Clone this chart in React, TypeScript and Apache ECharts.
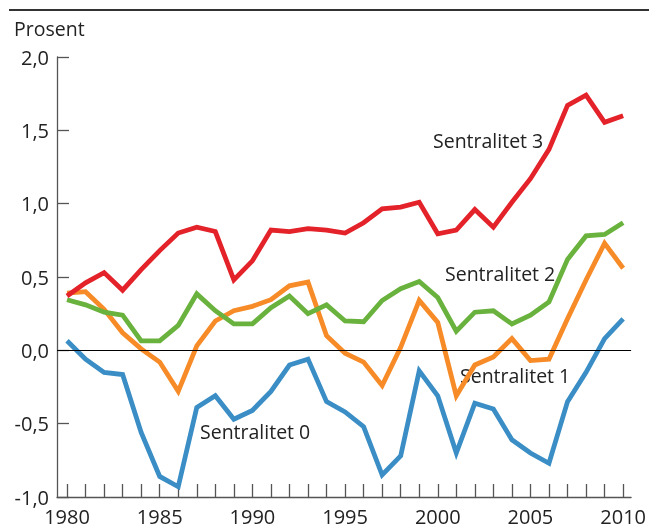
import React, { useEffect, useRef } from "react";
import * as echarts from "echarts";

const years = [1980,1981,1982,1983,1984,1985,1986,1987,1988,1989,1990,1991,1992,1993,1994,1995,1996,1997,1998,1999,2000,2001,2002,2003,2004,2005,2006,2007,2008,2009,2010];

const sentralitet3 = [0.37,0.46,0.53,0.41,0.55,0.68,0.80,0.84,0.81,0.48,0.61,0.82,0.81,0.83,0.82,0.80,0.87,0.965,0.976,1.01,0.795,0.82,0.96,0.84,1.01,1.17,1.37,1.67,1.74,1.555,1.60];
const sentralitet2 = [0.345,0.31,0.26,0.24,0.065,0.065,0.17,0.385,0.27,0.18,0.18,0.29,0.37,0.25,0.31,0.20,0.195,0.34,0.42,0.47,0.36,0.13,0.26,0.27,0.18,0.24,0.33,0.62,0.78,0.79,0.87];
const sentralitet1 = [0.39,0.40,0.28,0.12,0.01,-0.08,-0.28,0.03,0.20,0.27,0.30,0.345,0.44,0.465,0.10,-0.02,-0.08,-0.24,0.02,0.34,0.19,-0.31,-0.10,-0.045,0.08,-0.07,-0.06,0.215,0.48,0.73,0.56];
const sentralitet0 = [0.065,-0.06,-0.15,-0.165,-0.56,-0.86,-0.93,-0.39,-0.31,-0.47,-0.41,-0.28,-0.10,-0.06,-0.35,-0.42,-0.52,-0.85,-0.72,-0.14,-0.31,-0.70,-0.36,-0.40,-0.61,-0.70,-0.77,-0.35,-0.15,0.08,0.215];

const xLabelYears = [1980,1985,1990,1995,2000,2005,2010];
const yTicks = [-1,-0.5,0,0.5,1,1.5,2];

const seriesNames = ["Sentralitet 3","Sentralitet 2","Sentralitet 1","Sentralitet 0"];
const seriesColors = ["#e42229","#6ab23e","#f68b28","#3a8ec5"];

const FONT = "'Open Sans', 'Noto Sans', sans-serif";

export default function App() {
  const ref = useRef<HTMLDivElement>(null);
  useEffect(() => {
    if (!ref.current) return;
    const chart = echarts.init(ref.current, undefined, { renderer: "svg" });
    const all = [sentralitet3, sentralitet2, sentralitet1, sentralitet0];
    const series: any[] = all.map((vals, i) => ({
      name: seriesNames[i],
      type: "line",
      data: years.map((y, j) => [y, vals[j]]),
      showSymbol: false,
      symbol: "none",
      lineStyle: { color: seriesColors[i], width: 4.8, join: "miter" },
      itemStyle: { color: seriesColors[i] },
      z: 3 + (3 - i),
    }));
    series.push({
      type: "line",
      data: [],
      markLine: {
        silent: true,
        symbol: "none",
        label: { show: false },
        lineStyle: { color: "#000", width: 1, type: "solid" },
        data: [{ yAxis: 0 }],
      },
      z: 1,
    });
    chart.setOption({
      animation: false,
      textStyle: { fontFamily: FONT },
      grid: { left: 57, right: 15, top: 57, bottom: 31, containLabel: false },
      xAxis: {
        type: "value",
        min: 1979.46,
        max: 2010.43,
        axisLine: { show: true, onZero: false, lineStyle: { color: "#555", width: 1.3 } },
        axisTick: { show: true, inside: true, length: 13, customValues: years, lineStyle: { color: "#555", width: 1.3 } },
        axisLabel: { customValues: xLabelYears, margin: 9, fontSize: 20, color: "#222", fontFamily: FONT, formatter: (v: number) => String(Math.round(v)) },
        splitLine: { show: false },
      },
      yAxis: {
        type: "value",
        min: -1,
        max: 2,
        axisLine: { show: true, onZero: false, lineStyle: { color: "#555", width: 1.3 } },
        axisTick: { show: true, inside: true, length: 12, customValues: yTicks, lineStyle: { color: "#555", width: 1.3 } },
        axisLabel: { customValues: yTicks, margin: 8, fontSize: 20, color: "#222", fontFamily: FONT, formatter: (v: number) => v.toFixed(1).replace(".", ",") },
        splitLine: { show: false },
      },
      graphic: [
        { type: "line", shape: { x1: 9, y1: 10, x2: 649, y2: 10 }, style: { stroke: "#333", lineWidth: 2 } },
        { type: "text", left: 14, top: 18, style: { text: "Prosent", font: `19.5px ${FONT}`, fill: "#222" } },
        { type: "text", left: 433, top: 130, style: { text: "Sentralitet 3", font: `19.5px ${FONT}`, fill: "#222" } },
        { type: "text", left: 445, top: 263, style: { text: "Sentralitet 2", font: `19.5px ${FONT}`, fill: "#222" } },
        { type: "text", left: 460, top: 365, style: { text: "Sentralitet 1", font: `19.5px ${FONT}`, fill: "#222" } },
        { type: "text", left: 200, top: 421, style: { text: "Sentralitet 0", font: `19.5px ${FONT}`, fill: "#222" } },
      ],
      series,
    });
    return () => chart.dispose();
  }, []);
  return <div ref={ref} style={{ position: "fixed", left: 0, top: 0, width: 649, height: 528 }} />;
}
